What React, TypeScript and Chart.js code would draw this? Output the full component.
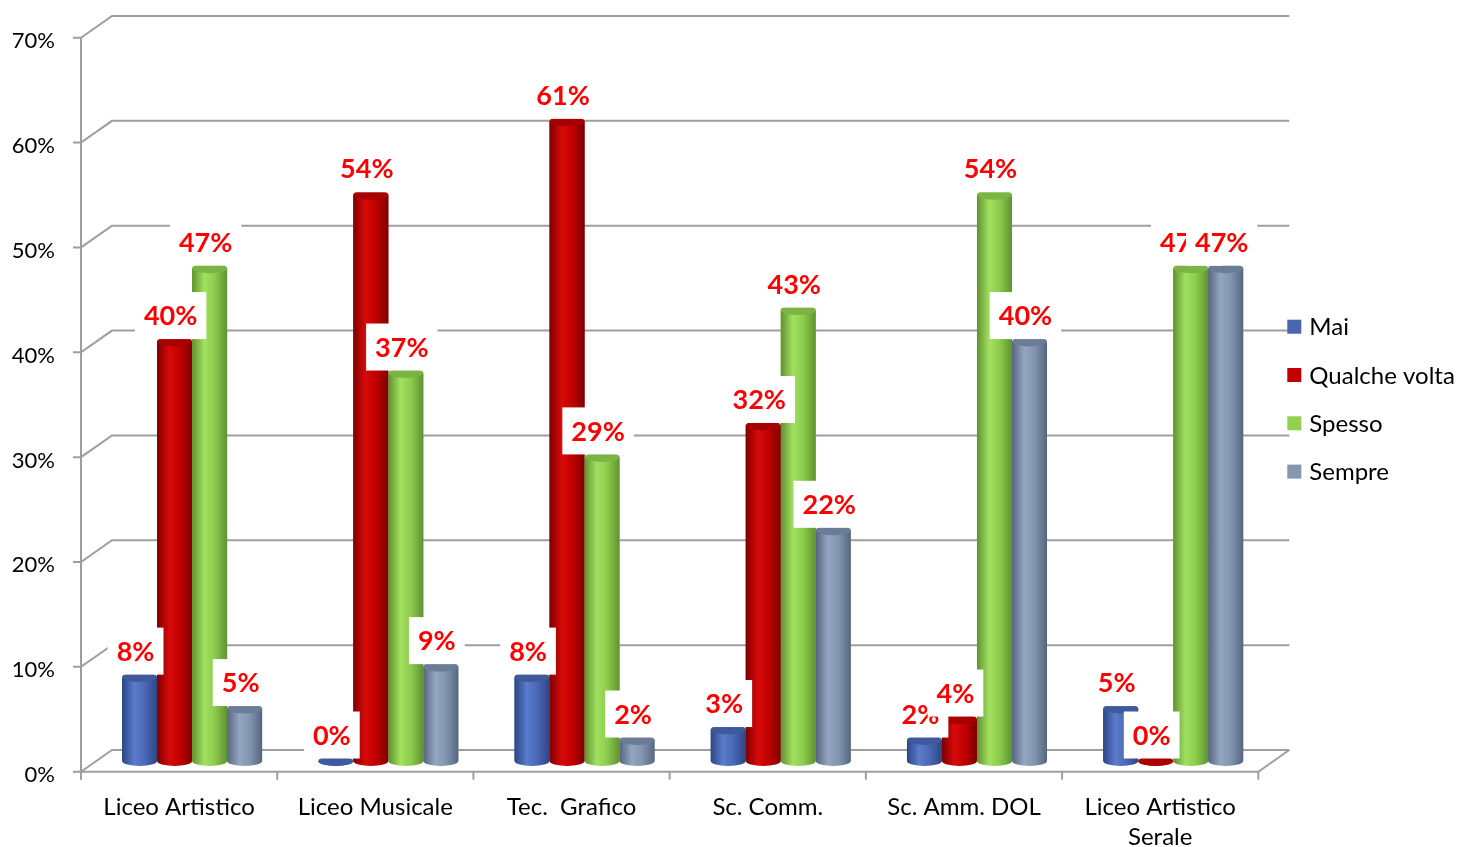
import React, { useEffect, useRef } from 'react';
import { Chart, registerables } from 'chart.js';

Chart.register(...registerables);

const categories: string[][] = [
  ['Liceo Artistico'],
  ['Liceo Musicale'],
  ['Tec.  Grafico'],
  ['Sc. Comm.'],
  ['Sc. Amm. DOL'],
  ['Liceo Artistico', 'Serale'],
];
const seriesNames = ['Mai', 'Qualche volta', 'Spesso', 'Sempre'];
const mai = [8, 0, 8, 3, 2, 5];
const qualcheVolta = [40, 54, 61, 32, 4, 0];
const spesso = [47, 37, 29, 43, 54, 47];
const sempre = [5, 9, 2, 22, 40, 47];
const yMin = 0;
const yMax = 70;
const yStep = 10;

const solidColors = ['#4A66B0', '#C00000', '#92D050', '#8496B0'];
const shades = [
  { dark: '#2C4585', light: '#5B7CCC', mid: '#4A68B5', top: '#3E5A9C' },
  { dark: '#7E0000', light: '#D80A0A', mid: '#C00000', top: '#A80000' },
  { dark: '#5F9230', light: '#A2E060', mid: '#8CCB4C', top: '#7CB444' },
  { dark: '#566680', light: '#93A5C0', mid: '#8294AF', top: '#6B7C97' },
];

const GRID = '#9E9E9E';
const FONT = 'Lato, "Open Sans", sans-serif';
const FRONT_DX = -13;
const FRONT_DY = 10.7;
const BACK_DX = 18;
const BACK_DY = -11;

const decorPlugin = {
  id: 'decor3d',
  beforeDatasetsDraw(chart: any) {
    const { ctx, chartArea: ca, scales } = chart;
    const x = scales.x;
    const y = scales.y;
    ctx.save();
    ctx.strokeStyle = GRID;
    ctx.lineWidth = 2;
    ctx.lineCap = 'butt';
    const fx = ca.left + FRONT_DX;
    const bx = ca.left + BACK_DX;
    const fR = ca.right + FRONT_DX;
    const bR = ca.right + BACK_DX;
    y.ticks.forEach((t: any) => {
      const p = y.getPixelForValue(t.value);
      ctx.beginPath();
      ctx.moveTo(fx - 8, p + FRONT_DY);
      ctx.lineTo(fx, p + FRONT_DY);
      ctx.lineTo(bx, p + BACK_DY);
      ctx.lineTo(bR, p + BACK_DY);
      ctx.stroke();
    });
    const p0 = y.getPixelForValue(yMin);
    const pT = y.getPixelForValue(yMax);
    ctx.beginPath();
    ctx.moveTo(fx, pT + FRONT_DY);
    ctx.lineTo(fx, p0 + FRONT_DY);
    ctx.lineTo(fR, p0 + FRONT_DY);
    ctx.lineTo(bR, p0 + BACK_DY);
    ctx.stroke();
    const n = chart.data.labels.length;
    const cw = (ca.right - ca.left) / n;
    for (let i = 0; i <= n; i++) {
      const cx = i < n ? x.getPixelForValue(i) - cw / 2 : x.getPixelForValue(n - 1) + cw / 2;
      ctx.beginPath();
      ctx.moveTo(cx + FRONT_DX, p0 + FRONT_DY);
      ctx.lineTo(cx + FRONT_DX, p0 + FRONT_DY + 8);
      ctx.stroke();
    }
    ctx.restore();
  },
  afterDatasetsDraw(chart: any) {
    const { ctx, chartArea: ca } = chart;
    const n = chart.data.labels.length;
    const ds = chart.data.datasets;
    ctx.save();
    // cylinders
    for (let i = 0; i < n; i++) {
      for (let d = 0; d < ds.length; d++) {
        const el = chart.getDatasetMeta(d).data[i];
        const { x: cx, y: top, base, width } = el.getProps(['x', 'y', 'base', 'width'], true);
        const rx = width / 2;
        const ry = 5;
        const s = shades[d];
        const g = ctx.createLinearGradient(cx - rx, 0, cx + rx, 0);
        g.addColorStop(0, s.dark);
        g.addColorStop(0.35, s.light);
        g.addColorStop(0.65, s.mid);
        g.addColorStop(1, s.dark);
        ctx.fillStyle = g;
        ctx.beginPath();
        ctx.moveTo(cx - rx, top);
        ctx.lineTo(cx - rx, base);
        ctx.ellipse(cx, base, rx, ry, 0, Math.PI, 0, true);
        ctx.lineTo(cx + rx, top);
        ctx.closePath();
        ctx.fill();
        ctx.fillStyle = s.top;
        ctx.beginPath();
        ctx.ellipse(cx, top, rx, ry, 0, 0, Math.PI * 2);
        ctx.fill();
      }
    }
    // labels
    ctx.font = `bold 27px ${FONT}`;
    ctx.textAlign = 'center';
    ctx.textBaseline = 'alphabetic';
    for (let i = 0; i < n; i++) {
      for (let d = 0; d < ds.length; d++) {
        const el = chart.getDatasetMeta(d).data[i];
        const { x: cx, y: top } = el.getProps(['x', 'y'], true);
        const txt = `${ds[d].data[i]}%`;
        const w = ctx.measureText(txt).width;
        const tx = cx - 4;
        const ty = top - 26;
        ctx.fillStyle = '#FFFFFF';
        ctx.fillRect(tx - w / 2 - 9, ty - 23.5, w + 18, 47);
        ctx.fillStyle = '#FF0000';
        ctx.fillText(txt, tx, ty + 9.6);
      }
    }
    // legend
    ctx.font = `24px ${FONT}`;
    ctx.textAlign = 'left';
    ctx.textBaseline = 'middle';
    for (let d = 0; d < ds.length; d++) {
      const ly = ca.top + 299.7 + d * 48.3;
      ctx.fillStyle = solidColors[d];
      ctx.fillRect(ca.right + 16, ly - 7, 14, 14);
      ctx.fillStyle = '#000000';
      ctx.fillText(ds[d].label, ca.right + 38, ly + 1);
    }
    ctx.restore();
  },
};

export default function App() {
  const ref = useRef<HTMLCanvasElement | null>(null);
  useEffect(() => {
    if (!ref.current) return;
    const seriesData = [mai, qualcheVolta, spesso, sempre];
    const chart = new Chart(ref.current, {
      type: 'bar',
      data: {
        labels: categories as any,
        datasets: seriesNames.map((name, i) => ({
          label: name,
          data: seriesData[i],
          backgroundColor: solidColors[i],
          borderWidth: 0,
          barPercentage: 1,
          categoryPercentage: 0.7136,
        })),
      },
      options: {
        animation: false,
        responsive: true,
        maintainAspectRatio: false,
        layout: { padding: { top: 27, right: 191.7, left: 0, bottom: 0 } },
        plugins: { legend: { display: false }, tooltip: { enabled: false } },
        scales: {
          x: {
            grid: { display: false, drawTicks: false },
            border: { display: false },
            ticks: {
              font: { family: FONT, size: 24, lineHeight: 1.25 },
              color: '#000000',
              labelOffset: FRONT_DX,
              padding: 31,
              maxRotation: 0,
              autoSkip: false,
            },
            afterFit: (s: any) => {
              s.height = 86;
              s.paddingLeft = 0;
              s.paddingRight = 0;
            },
          },
          y: {
            min: yMin,
            max: yMax,
            grid: { display: false, drawTicks: false },
            border: { display: false },
            ticks: {
              stepSize: yStep,
              callback: (v: any) => `${v}%`,
              font: { family: FONT, size: 22 },
              color: '#000000',
              labelOffset: 14,
              padding: 39,
            },
            afterFit: (s: any) => {
              s.width = 94;
              s.paddingTop = 0;
              s.paddingBottom = 0;
            },
          },
        },
      },
      plugins: [decorPlugin],
    });
    return () => chart.destroy();
  }, []);
  return (
    <div style={{ position: 'fixed', left: 0, top: 0, width: 1463, height: 847, background: '#fff' }}>
      <canvas ref={ref} />
    </div>
  );
}
